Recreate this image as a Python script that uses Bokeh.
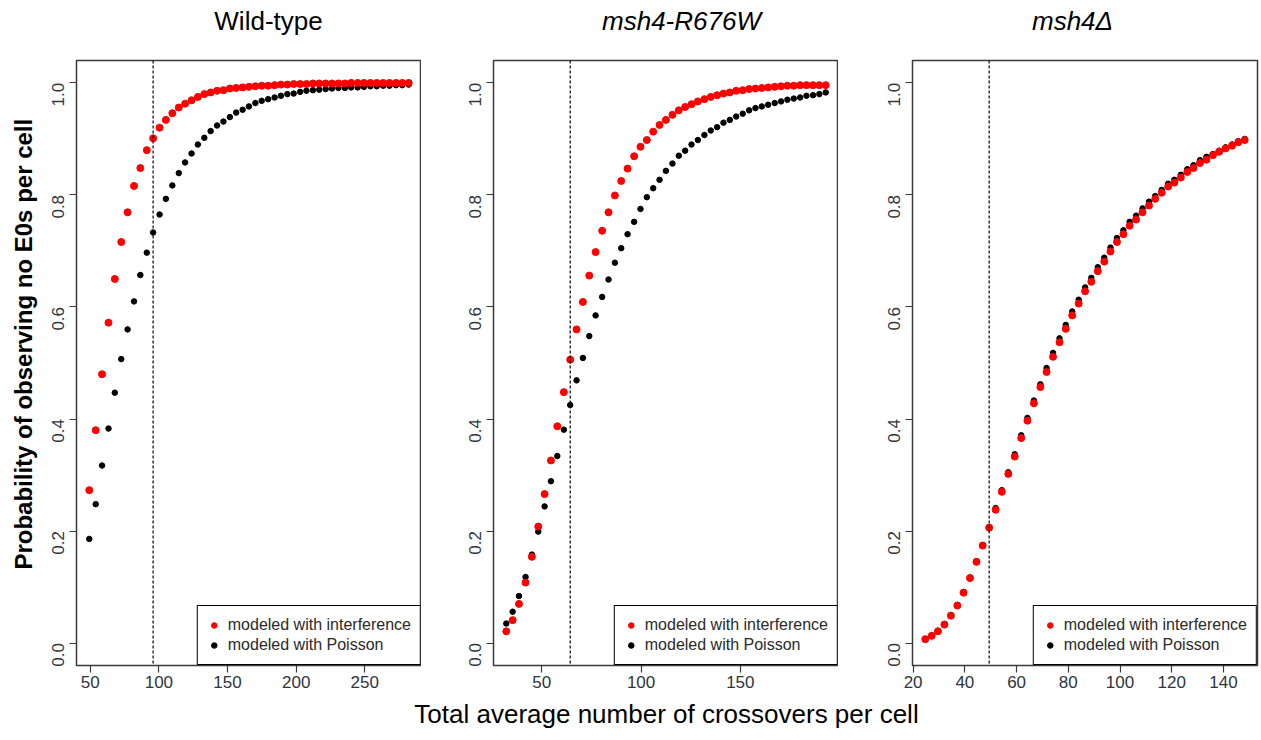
import math
from bokeh.plotting import figure
from bokeh.layouts import row, column
from bokeh.models import (Range1d, FixedTicker, PrintfTickFormatter, Span, Legend,
                          LegendItem, ColumnDataSource, Label)
from bokeh.embed import file_html
from bokeh.resources import INLINE

# ---------------- data ----------------
titles = ["Wild-type", "msh4-R676W", "msh4\u0394"]
title_styles = ["normal", "italic", "italic"]
x_label = "Total average number of crossovers per cell"
y_label = "Probability of observing no E0s per cell"

wt_x = [49.3, 54.0, 58.6, 63.3, 67.9, 72.6, 77.2, 81.9, 86.5, 91.2,
        95.8, 100.5, 105.1, 109.8, 114.5, 119.1, 123.8, 128.4, 133.1, 137.7,
        142.4, 147.0, 151.7, 156.3, 161.0, 165.6, 170.3, 174.9, 179.6, 184.3,
        188.9, 193.6, 198.2, 202.9, 207.5, 212.2, 216.8, 221.5, 226.1, 230.8,
        235.5, 240.1, 244.8, 249.4, 254.1, 258.7, 263.4, 268.0, 272.7, 277.3,
        282.0]
wt_interference = [0.273, 0.380, 0.480, 0.572, 0.650, 0.716, 0.769, 0.816, 0.848, 0.880,
                   0.901, 0.920, 0.934, 0.946, 0.956, 0.963, 0.969, 0.975, 0.980, 0.983,
                   0.986, 0.987, 0.990, 0.991, 0.992, 0.993, 0.994, 0.995, 0.995, 0.996,
                   0.997, 0.997, 0.998, 0.998, 0.998, 0.999, 0.999, 0.999, 0.999, 0.999,
                   0.999, 1.000, 1.000, 1.000, 1.000, 1.000, 1.000, 1.000, 1.000, 1.000,
                   1.000]
wt_poisson = [0.186, 0.248, 0.317, 0.383, 0.447, 0.507, 0.560, 0.610, 0.657, 0.697,
              0.733, 0.765, 0.793, 0.817, 0.839, 0.858, 0.874, 0.890, 0.902, 0.914,
              0.924, 0.931, 0.939, 0.947, 0.952, 0.958, 0.964, 0.968, 0.971, 0.974,
              0.977, 0.980, 0.981, 0.984, 0.986, 0.987, 0.988, 0.989, 0.990, 0.991,
              0.991, 0.992, 0.992, 0.993, 0.994, 0.994, 0.995, 0.995, 0.996, 0.996,
              0.997]

r676w_x = [32.1, 35.3, 38.5, 41.8, 45.0, 48.2, 51.4, 54.6, 57.8, 61.1,
           64.3, 67.5, 70.7, 73.9, 77.1, 80.4, 83.6, 86.8, 90.0, 93.2,
           96.5, 99.7, 102.9, 106.1, 109.3, 112.5, 115.8, 119.0, 122.2, 125.4,
           128.6, 131.9, 135.1, 138.3, 141.5, 144.7, 147.9, 151.2, 154.4, 157.6,
           160.8, 164.0, 167.3, 170.5, 173.7, 176.9, 180.1, 183.3, 186.6, 189.8,
           193.0]
r676w_interference = [0.021, 0.041, 0.070, 0.108, 0.154, 0.208, 0.266, 0.326, 0.387, 0.448,
                      0.506, 0.560, 0.609, 0.656, 0.698, 0.736, 0.769, 0.799, 0.825, 0.847,
                      0.869, 0.886, 0.898, 0.913, 0.925, 0.934, 0.943, 0.951, 0.957, 0.962,
                      0.967, 0.971, 0.975, 0.978, 0.981, 0.983, 0.986, 0.987, 0.989, 0.990,
                      0.991, 0.992, 0.993, 0.994, 0.995, 0.995, 0.996, 0.996, 0.996, 0.996,
                      0.996]
r676w_poisson = [0.035, 0.056, 0.084, 0.118, 0.158, 0.199, 0.244, 0.289, 0.334, 0.381,
                 0.425, 0.469, 0.509, 0.548, 0.585, 0.618, 0.649, 0.679, 0.705, 0.730,
                 0.752, 0.775, 0.796, 0.812, 0.827, 0.843, 0.856, 0.870, 0.879, 0.890,
                 0.898, 0.907, 0.915, 0.921, 0.929, 0.934, 0.940, 0.945, 0.951, 0.955,
                 0.958, 0.961, 0.964, 0.967, 0.970, 0.972, 0.974, 0.977, 0.978, 0.980,
                 0.983]

del_x = [24.7, 27.2, 29.6, 32.1, 34.6, 37.1, 39.5, 42.0, 44.5, 46.9,
         49.4, 51.9, 54.3, 56.8, 59.3, 61.8, 64.2, 66.7, 69.2, 71.6,
         74.1, 76.6, 79.0, 81.5, 84.0, 86.5, 88.9, 91.4, 93.9, 96.3,
         98.8, 101.3, 103.7, 106.2, 108.7, 111.2, 113.6, 116.1, 118.6, 121.0,
         123.5, 126.0, 128.4, 130.9, 133.4, 135.9, 138.3, 140.8, 143.3, 145.7,
         148.2]
del_interference = [0.007, 0.013, 0.021, 0.033, 0.049, 0.067, 0.090, 0.116, 0.145, 0.174,
                    0.206, 0.238, 0.270, 0.302, 0.333, 0.366, 0.397, 0.428, 0.457, 0.484,
                    0.511, 0.537, 0.561, 0.585, 0.606, 0.628, 0.645, 0.664, 0.681, 0.699,
                    0.716, 0.730, 0.745, 0.756, 0.769, 0.781, 0.793, 0.804, 0.815, 0.822,
                    0.831, 0.841, 0.848, 0.857, 0.863, 0.871, 0.877, 0.883, 0.888, 0.894,
                    0.898]
del_poisson = [0.007, 0.013, 0.022, 0.034, 0.050, 0.068, 0.091, 0.117, 0.146, 0.175,
               0.207, 0.241, 0.273, 0.305, 0.337, 0.371, 0.402, 0.433, 0.462, 0.491,
               0.518, 0.544, 0.568, 0.592, 0.613, 0.635, 0.652, 0.671, 0.688, 0.706,
               0.723, 0.737, 0.752, 0.763, 0.776, 0.788, 0.798, 0.809, 0.820, 0.827,
               0.836, 0.846, 0.853, 0.862, 0.868, 0.873, 0.879, 0.885, 0.890, 0.896,
               0.900]

observed = [95.8, 64.3, 49.4]
x_ticks = [[50, 100, 150, 200, 250], [50, 100, 150], [20, 40, 60, 80, 100, 120, 140]]
y_ticks = [0.0, 0.2, 0.4, 0.6, 0.8, 1.0]
legend_labels = ["modeled with interference", "modeled with Poisson"]

# ---------------- layout ----------------
FONT = "Liberation Sans"
TICK_COLOR = "#2e3440"
W = 1261
TOP_H = 40          # strip holding the panel titles
BOT_H = 40          # strip holding the x-axis label
YLAB_W = 40         # strip holding the y-axis label
PANEL_H = 740 - TOP_H - BOT_H
FRAME_TOP, FRAME_BOTTOM = 60, 665

panels = [
    dict(x=wt_x, red=wt_interference, black=wt_poisson, w=421 - YLAB_W, bl=76 - YLAB_W, br=0),
    dict(x=r676w_x, red=r676w_interference, black=r676w_poisson, w=417, bl=72, br=0),
    dict(x=del_x, red=del_interference, black=del_poisson, w=423, bl=74, br=4),
]
title_centers = [268, 681, 1072]

figs = []
for i, pd_ in enumerate(panels):
    xs = pd_["x"]
    span = max(xs) - min(xs)
    xr = Range1d(min(xs) - 0.04 * span, max(xs) + 0.04 * span)
    p = figure(width=pd_["w"], height=PANEL_H, x_range=xr, y_range=Range1d(-0.04, 1.04),
               output_backend="svg", toolbar_location=None,
               min_border_left=pd_["bl"], min_border_right=pd_["br"],
               min_border_top=FRAME_TOP - TOP_H,
               min_border_bottom=TOP_H + PANEL_H - FRAME_BOTTOM)
    p.background_fill_color = "white"
    p.border_fill_color = "white"
    p.outline_line_color = "#3a3a3a"
    p.outline_line_width = 1.5
    p.grid.visible = False

    for ax in (p.xaxis[0], p.yaxis[0]):
        ax.axis_line_color = None
        ax.major_tick_line_color = "#3a3a3a"
        ax.major_tick_line_width = 1.2
        ax.major_tick_out = 7
        ax.major_tick_in = 0
        ax.minor_tick_line_color = None
        ax.major_label_text_font = FONT
        ax.major_label_text_font_size = "17px"
        ax.major_label_text_color = TICK_COLOR
    p.xaxis.ticker = FixedTicker(ticks=x_ticks[i])
    p.xaxis.major_label_standoff = 3
    p.yaxis.ticker = FixedTicker(ticks=y_ticks)
    p.yaxis.formatter = PrintfTickFormatter(format="%.1f")
    p.yaxis.major_label_orientation = math.pi / 2
    p.yaxis.major_label_standoff = 11

    p.add_layout(Span(location=observed[i], dimension="height", line_color="black",
                      line_width=1.2, line_dash="3 2"))

    src = ColumnDataSource(dict(x=xs, red=pd_["red"], black=pd_["black"]))
    rb = p.scatter("x", "black", source=src, size=5.5, color="black")
    rr = p.scatter("x", "red", source=src, size=7, color="red")

    leg = Legend(items=[LegendItem(label=legend_labels[0], renderers=[rr]),
                        LegendItem(label=legend_labels[1], renderers=[rb])],
                 location="bottom_right", margin=0, padding=9, spacing=0,
                 glyph_width=14, glyph_height=20, label_height=20, label_standoff=7,
                 label_text_font=FONT, label_text_font_size="16px",
                 label_text_color="#2a2a2a", border_line_color="black",
                 border_line_width=1, border_line_alpha=1.0,
                 background_fill_color="white", background_fill_alpha=1.0)
    p.add_layout(leg, "center")
    figs.append(p)


def strip(width, height):
    s = figure(width=width, height=height, x_range=Range1d(0, width),
               y_range=Range1d(0, height), x_axis_type=None, y_axis_type=None,
               output_backend="svg", toolbar_location=None,
               min_border_left=0, min_border_right=0, min_border_top=0, min_border_bottom=0)
    s.outline_line_color = None
    s.grid.visible = False
    return s


# titles strip (top)
top = strip(W, TOP_H)
for i, t in enumerate(titles):
    top.add_layout(Label(x=title_centers[i], y=TOP_H - 20, text=t, text_align="center",
                         text_baseline="middle", text_font=FONT, text_font_size="26px",
                         text_font_style=title_styles[i], text_color="black"))

# y-axis label strip (left)
ylab = strip(YLAB_W, PANEL_H)
ylab.add_layout(Label(x=22.7, y=PANEL_H - (349.5 - TOP_H), text=y_label, angle=math.pi / 2,
                      text_align="center", text_baseline="middle", text_font=FONT,
                      text_font_size="24px", text_font_style="bold", text_color="black"))

# x-axis label strip (bottom)
xlab = strip(W, BOT_H)
xlab.add_layout(Label(x=666, y=BOT_H - 13, text=x_label, text_align="center",
                      text_baseline="middle", text_font=FONT, text_font_size="26px",
                      text_font_style="normal", text_color="black"))

layout = column(top, row(ylab, *figs, spacing=0), xlab, spacing=0)
open("out.html", "w").write(file_html(layout, INLINE))
